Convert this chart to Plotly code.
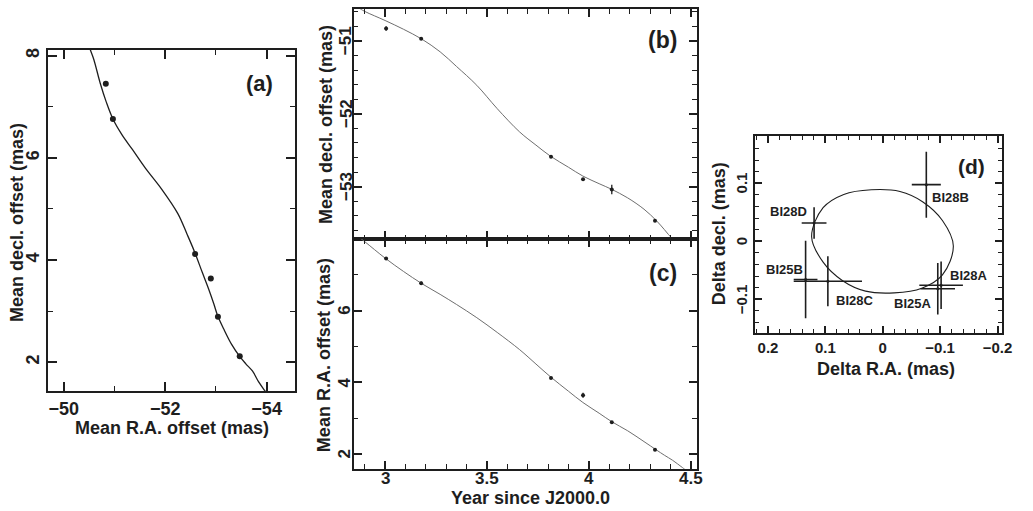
import plotly.graph_objects as go

W, H = 1033, 511

# ---------------- data ----------------
obs_t = [3.005, 3.177, 3.814, 3.971, 4.112, 4.324]
obs_dec = [-50.83, -50.97, -52.59, -52.90, -53.04, -53.47]
obs_dec_err = [0.03, 0.01, 0.01, 0.015, 0.065, 0.01]
obs_ra = [7.45, 6.76, 4.12, 3.64, 2.89, 2.12]
obs_ra_err = [0.03, 0.05, 0.03, 0.07, 0.03, 0.03]

curve_t = [2.84, 2.86, 2.90, 3.00, 3.09, 3.18, 3.27, 3.35, 3.45, 3.55, 3.66, 3.74,
           3.81, 3.90, 3.97, 4.05, 4.11, 4.19, 4.27, 4.33, 4.37, 4.41, 4.46, 4.50, 4.52]
curve_dec = [-50.50, -50.53, -50.595, -50.72, -50.84, -50.975, -51.15, -51.35, -51.61,
             -51.93, -52.25, -52.43, -52.58, -52.735, -52.855, -52.96, -53.035, -53.155,
             -53.31, -53.465, -53.59, -53.72, -53.84, -53.96, -54.02]
curve_ra = [8.19, 8.10, 7.92, 7.46, 7.09, 6.75, 6.45, 6.17, 5.80, 5.39, 4.91, 4.51,
            4.16, 3.75, 3.44, 3.14, 2.91, 2.65, 2.35, 2.12, 1.97, 1.83, 1.62, 1.45, 1.37]

epoch_names = ["BI28B", "BI28D", "BI25B", "BI28C", "BI28A", "BI25A"]
res_ra = [-0.0759, 0.1197, 0.1345, 0.0957, -0.1017, -0.0959]
res_ra_err = [0.0253, 0.0216, 0.0207, 0.0595, 0.038, 0.030]
res_dec = [0.0978, 0.0316, -0.066, -0.069, -0.076, -0.082]
res_dec_err = [0.057, 0.027, 0.067, 0.043, 0.041, 0.0445]

ell_ra = [0.124, 0.104, 0.068, 0.020, -0.030, -0.070, -0.104, -0.123,
          -0.104, -0.068, -0.020, 0.030, 0.070, 0.104, 0.124]
ell_dec = [0.008, 0.058, 0.081, 0.089, 0.086, 0.068, 0.036, -0.008,
           -0.058, -0.081, -0.089, -0.086, -0.068, -0.036, 0.008]

# tick labels drawn next to the axes
b_yticks = [-53, -52, -51]
c_yticks = [2, 4, 6]
c_xticks = [3, 3.5, 4, 4.5]
d_yticks = [-0.1, 0, 0.1]

def lab(v):
    s = f"{v:g}"
    return s.replace("-", "\u2212")

def fx(p):
    return p / W

def fy(p):
    return 1 - p / H

INK = "#1e1e1e"
FONT = "Liberation Sans"

def axis(domain, rng, dtick, tick0, minor, ticklen, minorlen, tickfont,
         labels=True, angle=None, anchor=None):
    d = dict(
        domain=domain, range=rng, dtick=dtick, tick0=tick0,
        showgrid=False, zeroline=False, showline=True, linecolor=INK, linewidth=2,
        mirror="ticks", ticks="inside", ticklen=ticklen, tickwidth=1.5, tickcolor=INK,
        showticklabels=labels, tickfont=dict(family=FONT, size=tickfont, color=INK, weight="bold"),
        minor=dict(dtick=minor, tick0=tick0, ticks="inside", ticklen=minorlen,
                   tickwidth=1.3, tickcolor=INK, showgrid=False),
        anchor=anchor,
    )
    if angle is not None:
        d["tickangle"] = angle
    return d

fig = go.Figure()

fig.add_trace(go.Scatter(x=curve_dec, y=curve_ra, mode="lines", xaxis="x", yaxis="y",
                         line=dict(color=INK, width=1.3, shape="spline", smoothing=1.0),
                         showlegend=False, hoverinfo="skip"))
fig.add_trace(go.Scatter(x=obs_dec, y=obs_ra, mode="markers", xaxis="x", yaxis="y",
                         marker=dict(color=INK, size=6), showlegend=False))
fig.add_trace(go.Scatter(x=curve_t, y=curve_dec, mode="lines", xaxis="x2", yaxis="y2",
                         line=dict(color="#6e6e6e", width=1, shape="spline", smoothing=1.0),
                         showlegend=False, hoverinfo="skip"))
fig.add_trace(go.Scatter(x=obs_t, y=obs_dec, mode="markers", xaxis="x2", yaxis="y2",
                         marker=dict(color=INK, size=4),
                         error_y=dict(type="data", array=obs_dec_err, width=0, thickness=1.3, color=INK),
                         showlegend=False))
fig.add_trace(go.Scatter(x=curve_t, y=curve_ra, mode="lines", xaxis="x3", yaxis="y3",
                         line=dict(color="#6e6e6e", width=1, shape="spline", smoothing=1.0),
                         showlegend=False, hoverinfo="skip"))
fig.add_trace(go.Scatter(x=obs_t, y=obs_ra, mode="markers", xaxis="x3", yaxis="y3",
                         marker=dict(color=INK, size=4),
                         error_y=dict(type="data", array=obs_ra_err, width=0, thickness=1.3, color=INK),
                         showlegend=False))
fig.add_trace(go.Scatter(x=ell_ra, y=ell_dec, mode="lines", xaxis="x4", yaxis="y4",
                         line=dict(color=INK, width=1.1, shape="spline", smoothing=1.0),
                         showlegend=False, hoverinfo="skip"))
fig.add_trace(go.Scatter(x=res_ra, y=res_dec, mode="markers", xaxis="x4", yaxis="y4",
                         marker=dict(color=INK, size=3),
                         error_x=dict(type="data", array=res_ra_err, width=0, thickness=1.6, color=INK),
                         error_y=dict(type="data", array=res_dec_err, width=0, thickness=1.6, color=INK),
                         showlegend=False))

A = dict(x0=49, x1=297.7, y0=47.7, y1=390.7)
B = dict(x0=357.7, x1=704.3, y0=7.3, y1=238.0)
C = dict(x0=357.7, x1=704.3, y0=238.0, y1=468.7)
D = dict(x0=763.3, x1=1012.3, y0=135.0, y1=332.7)

def dx(p):
    return [fx(p["x0"]), fx(p["x1"])]

def dy(p):
    return [fy(p["y1"]), fy(p["y0"])]

fig.update_layout(
    width=W, height=H, margin=dict(l=0, r=0, t=0, b=0),
    paper_bgcolor="white", plot_bgcolor="white",
    font=dict(family=FONT, color=INK),
    xaxis=axis(dx(A), [-49.70, -54.55], 2, 0, 1, 9, 5, 18, anchor="y"),
    yaxis=axis(dy(A), [1.435, 8.12], 2, 0, 1, 9, 5, 18, angle=-90, anchor="x"),
    xaxis2=axis(dx(B), [2.847, 4.529], 0.5, 0, 0.1, 8, 4.5, 17, labels=False, anchor="y2"),
    yaxis2=axis(dy(B), [-53.72, -50.566], 1, 0, 0.2, 8, 4.5, 17, labels=False, anchor="x2"),
    xaxis3=axis(dx(C), [2.847, 4.529], 0.5, 0, 0.1, 8, 4.5, 17, labels=False, anchor="y3"),
    yaxis3=axis(dy(C), [1.59, 7.99], 2, 0, 1, 8, 4.5, 17, labels=False, anchor="x3"),
    xaxis4=axis(dx(D), [0.2224, -0.207], 0.1, 0, 0.02, 7, 4, 15, anchor="y4"),
    yaxis4=axis(dy(D), [-0.159, 0.181], 0.1, 0, 0.02, 7, 4, 15, labels=False, anchor="x4"),
)

ann = []
def txt(text, xpx, ypx, size, angle=0, xanchor="center"):
    ann.append(dict(text=text, x=fx(xpx), y=fy(ypx), xref="paper", yref="paper",
                    showarrow=False, textangle=angle, xanchor=xanchor, yanchor="middle",
                    font=dict(family=FONT, size=size, color=INK, weight="bold")))

def ytick(v, yref, xpx, size):
    ann.append(dict(text=lab(v), x=fx(xpx), y=v, xref="paper", yref=yref,
                    showarrow=False, textangle=-90, xanchor="center", yanchor="middle",
                    font=dict(family=FONT, size=size, color=INK, weight="bold")))

def xtick(v, xref, ypx, size):
    ann.append(dict(text=lab(v), x=v, y=fy(ypx), xref=xref, yref="paper",
                    showarrow=False, xanchor="center", yanchor="middle",
                    font=dict(family=FONT, size=size, color=INK, weight="bold")))

for v in b_yticks:
    ytick(v, "y2", 350, 17)
for v in c_yticks:
    ytick(v, "y3", 348, 17)
for v in c_xticks:
    xtick(v, "x3", 478.5, 17)
for v in d_yticks:
    ytick(v, "y4", 749, 15)

txt("Mean decl. offset (mas)", 17, 221, 18, -90)
txt("Mean R.A. offset (mas)", 173.4, 428, 18)
txt("Mean decl. offset (mas)", 329, 123, 18, -90)
txt("Mean R.A. offset (mas)", 327, 355, 18, -90)
txt("Year since J2000.0", 536, 498, 18)
txt("Delta decl. (mas)", 727, 233, 18, -90)
txt("Delta R.A. (mas)", 896, 368, 18)
txt("(a)", 262, 82, 22)
txt("(b)", 670, 38, 23)
txt("(c)", 670, 272, 23)
txt("(d)", 982, 165, 21)

label_px = [(940, 196.7, "left"), (817.3, 210.7, "right"), (813.3, 268.3, "right"),
            (842.7, 300, "left"), (958.3, 275, "left"), (943.3, 302.7, "right")]
for name, (lx, ly, anc) in zip(epoch_names, label_px):
    txt(name, lx, ly, 13, 0, anc)

fig.update_layout(annotations=ann)
fig.write_html("out.html")
